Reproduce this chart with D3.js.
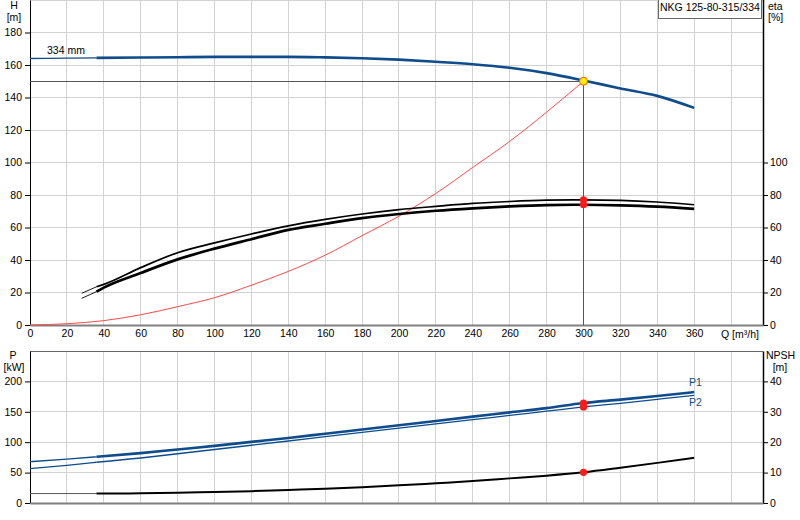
<!DOCTYPE html>
<html lang="en">
<head>
<meta charset="UTF-8">
<title>NKG 125-80-315/334</title>
<script src="https://d3js.org/d3.v7.min.js"></script>
<style>
  body { margin: 0; background: #fff; }
  text { font-family: "Liberation Sans", Arial, sans-serif; font-size: 10.5px; fill: #000; }
</style>
</head>
<body>
<script>
// values
var title = "NKG 125-80-315/334";
var impeller = "334 mm";

var xTicks = [0, 20, 40, 60, 80, 100, 120, 140, 160, 180, 200, 220, 240, 260, 280, 300, 320, 340, 360];
var xGrid = [20, 40, 60, 80, 100, 120, 140, 160, 180, 200, 220, 240, 260, 280, 300, 320, 340, 360, 380];
var hTicks = [0, 20, 40, 60, 80, 100, 120, 140, 160, 180];
var hGrid = [20, 40, 60, 80, 100, 120, 140, 160, 180, 200];
var etaTicks = [0, 20, 40, 60, 80, 100];
var pTicks = [0, 50, 100, 150, 200];
var npshTicks = [0, 10, 20, 30, 40];

// head curve
var headQ = [0, 20, 36, 60, 80, 100, 120, 140, 160, 180, 200, 220, 240, 260, 280, 300, 320, 340, 360];
var head = [164, 164.2, 164.4, 164.6, 164.8, 165, 165, 165, 164.7, 164.2, 163.3, 162, 160.5, 158.3, 155, 150.5, 145.6, 141, 133.6];

// efficiency curves (eta, %)
var etaQ = [28, 36, 40, 60, 80, 100, 120, 140, 160, 180, 200, 220, 240, 260, 280, 300, 320, 340, 360];
var eta1 = [19.5, 23.5, 25, 35.3, 44.5, 50.5, 56, 61, 65, 68.3, 71, 73, 74.8, 76, 76.8, 77, 76.7, 75.7, 74];
var eta2 = [16.4, 20.5, 23, 32, 40.4, 47, 52.8, 58.5, 62.3, 65.8, 68.3, 70.3, 71.8, 73, 73.8, 74, 73.6, 72.8, 71.5];

// system curve
var sysQ = [0, 20, 40, 60, 80, 100, 120, 140, 160, 180, 200, 220, 240, 260, 280, 300];
var sysH = [0, 0.8, 2.7, 6.3, 11.3, 16.8, 24.5, 33, 43, 55, 67, 81, 97, 113, 131, 150];

// power P1 / P2 (kW)
var powQ = [0, 20, 36, 60, 80, 100, 120, 140, 160, 180, 200, 220, 240, 260, 280, 300, 320, 340, 360];
var p1 = [68, 72, 76, 82, 88, 94, 100.5, 107, 114, 121, 128, 135, 142, 149, 156, 164.5, 170, 176, 182.5];
var p2 = [56.5, 62, 67, 74, 81, 88, 95, 102, 109, 116, 123, 130, 137, 144, 151, 158, 164, 170.5, 177];

// NPSH (m)
var npshQ = [0, 36, 60, 80, 100, 120, 140, 160, 180, 200, 220, 240, 260, 280, 300, 320, 340, 360];
var npsh = [3.1, 3.1, 3.2, 3.4, 3.6, 3.9, 4.3, 4.7, 5.2, 5.8, 6.5, 7.2, 8.1, 9.0, 10.1, 11.6, 13.2, 14.9];

var dutyQ = 300, dutyH = 150;
var curveStart = 36; // curves are drawn thin below this flow

var blue = "#0f4c8c";

var svg = d3.select("body").append("svg")
    .attr("width", 800)
    .attr("height", 520);

var x = d3.scaleLinear().domain([0, 397.3]).range([30, 763]);
var yH = d3.scaleLinear().domain([0, 200]).range([325, 0]);
var yEta = d3.scaleLinear().domain([0, 200]).range([325, 0]);
var yP = d3.scaleLinear().domain([0, 250]).range([503, 351]);
var yN = d3.scaleLinear().domain([0, 50]).range([503, 351]);

// grid
var grid = svg.append("g").attr("stroke", "#d2d2d2").attr("stroke-width", 1).attr("shape-rendering", "crispEdges");
xGrid.forEach(function(q) {
  grid.append("line").attr("x1", x(q)).attr("x2", x(q)).attr("y1", 0).attr("y2", 325);
  grid.append("line").attr("x1", x(q)).attr("x2", x(q)).attr("y1", 351).attr("y2", 503);
});
hGrid.forEach(function(h) {
  grid.append("line").attr("x1", 30).attr("x2", 763).attr("y1", yH(h)).attr("y2", yH(h));
});
pTicks.slice(1).forEach(function(p) {
  grid.append("line").attr("x1", 30).attr("x2", 763).attr("y1", yP(p)).attr("y2", yP(p));
});

// panel frame lines
svg.append("line").attr("x1", 30).attr("x2", 763).attr("y1", 351).attr("y2", 351)
    .attr("stroke", "#666").attr("shape-rendering", "crispEdges");

function styleAxis(g) {
  g.attr("font-family", null).attr("font-size", null);
  g.selectAll("path, line").attr("stroke", "#000");
}

svg.append("g").attr("transform", "translate(30,0)")
    .call(d3.axisLeft(yH).tickValues(hTicks).tickSize(5).tickSizeOuter(0).tickPadding(3))
    .call(styleAxis);
svg.append("g").attr("transform", "translate(763,0)")
    .call(d3.axisRight(yEta).tickValues(etaTicks).tickSize(5).tickSizeOuter(0).tickPadding(2))
    .call(styleAxis)
    .select(".domain").attr("d", "M0.5,0V325").attr("stroke-width", 1.5);
svg.append("g").attr("transform", "translate(30,0)")
    .call(d3.axisLeft(yP).tickValues(pTicks).tickSize(5).tickSizeOuter(0).tickPadding(3))
    .call(styleAxis);
svg.append("g").attr("transform", "translate(763,0)")
    .call(d3.axisRight(yN).tickValues(npshTicks).tickSize(5).tickSizeOuter(0).tickPadding(2))
    .call(styleAxis)
    .select(".domain").attr("stroke-width", 1.5);

var xAxis = svg.append("g").attr("transform", "translate(0,325)")
    .call(d3.axisBottom(x).tickValues(xTicks).tickSize(0).tickPadding(5).tickFormat(d3.format("d")))
    .call(styleAxis);
xAxis.select(".domain").attr("stroke", "#808080").attr("stroke-width", 2);

svg.append("g").attr("transform", "translate(0,503)")
    .call(d3.axisBottom(x).tickValues([]).tickSize(0).tickSizeOuter(0))
    .select(".domain").attr("stroke", "#808080").attr("stroke-width", 2);

// axis titles
svg.append("text").attr("x", 14).attr("y", 9).attr("text-anchor", "middle").text("H");
svg.append("text").attr("x", 14).attr("y", 21).attr("text-anchor", "middle").text("[m]");
svg.append("text").attr("x", 768).attr("y", 10).text("eta");
svg.append("text").attr("x", 768).attr("y", 21).text("[%]");
svg.append("text").attr("x", 13).attr("y", 359).attr("text-anchor", "middle").text("P");
svg.append("text").attr("x", 14).attr("y", 371).attr("text-anchor", "middle").text("[kW]");
svg.append("text").attr("x", 766).attr("y", 359).text("NPSH");
svg.append("text").attr("x", 780).attr("y", 371).attr("text-anchor", "middle").text("[m]");
svg.append("text").attr("x", 740).attr("y", 338).attr("text-anchor", "middle").text("Q [m³/h]");

// title box
svg.append("rect").attr("x", 658.5).attr("y", -1).attr("width", 103).attr("height", 19.5)
    .attr("fill", "#fff").attr("stroke", "#666");
svg.append("text").attr("x", 660).attr("y", 11).text(title);

// curve helpers
function pts(qs, vs) { return qs.map(function(q, i) { return [q, vs[i]]; }); }
function drawCurve(data, ys, color, thinW, thickW) {
  var line = d3.line().x(function(d) { return x(d[0]); }).y(function(d) { return ys(d[1]); })
      .curve(d3.curveMonotoneX);
  var thin = data.filter(function(d) { return d[0] <= curveStart; });
  var thick = data.filter(function(d) { return d[0] >= curveStart; });
  if (thin.length > 1) {
    svg.append("path").attr("d", line(thin)).attr("fill", "none")
        .attr("stroke", color.thin || color).attr("stroke-width", thinW);
  }
  svg.append("path").attr("d", line(thick)).attr("fill", "none")
      .attr("stroke", color.thick || color).attr("stroke-width", thickW)
      .attr("stroke-linejoin", "round");
}
function valueAt(qs, vs, q) { return vs[qs.indexOf(q)]; }

// duty point lines
svg.append("line").attr("x1", x(0)).attr("x2", x(dutyQ)).attr("y1", yH(dutyH)).attr("y2", yH(dutyH))
    .attr("stroke", "#555").attr("stroke-width", 1).attr("shape-rendering", "crispEdges");
svg.append("line").attr("x1", x(dutyQ)).attr("x2", x(dutyQ)).attr("y1", yH(dutyH)).attr("y2", yH(0))
    .attr("stroke", "#555").attr("stroke-width", 1).attr("shape-rendering", "crispEdges");

// system curve
svg.append("path")
    .attr("d", d3.line().x(function(d) { return x(d[0]); }).y(function(d) { return yH(d[1]); })
        .curve(d3.curveMonotoneX)(pts(sysQ, sysH)))
    .attr("fill", "none").attr("stroke", "#ff4a4a").attr("stroke-width", 1);

// head, efficiency
drawCurve(pts(headQ, head), yH, blue, 1.3, 2.6);
drawCurve(pts(etaQ, eta1), yEta, "#000", 0.9, 1.7);
drawCurve(pts(etaQ, eta2), yEta, "#000", 0.9, 2.7);

// power and NPSH
drawCurve(pts(powQ, p1), yP, blue, 1.3, 2.6);
drawCurve(pts(powQ, p2), yP, blue, 1.3, 1.3);
drawCurve(pts(npshQ, npsh), yN, { thin: "#555", thick: "#000" }, 1, 2);

svg.append("text").attr("x", 689).attr("y", 386).attr("fill", blue).style("fill", blue).text("P1");
svg.append("text").attr("x", 689).attr("y", 406).attr("fill", blue).style("fill", blue).text("P2");

svg.append("text").attr("x", 47).attr("y", 54).text(impeller);

// duty point markers
var dots = [
  [yEta, valueAt(etaQ, eta1, dutyQ)],
  [yEta, valueAt(etaQ, eta2, dutyQ)],
  [yP, valueAt(powQ, p1, dutyQ)],
  [yP, valueAt(powQ, p2, dutyQ)],
  [yN, valueAt(npshQ, npsh, dutyQ)]
];
dots.forEach(function(d) {
  svg.append("circle").attr("cx", x(dutyQ)).attr("cy", d[0](d[1])).attr("r", 3.6).attr("fill", "#ff1a1a");
});
svg.append("circle").attr("cx", x(dutyQ)).attr("cy", yH(dutyH)).attr("r", 4)
    .attr("fill", "#ffee00").attr("stroke", "#ff5a00").attr("stroke-width", 1);
</script>
</body>
</html>
